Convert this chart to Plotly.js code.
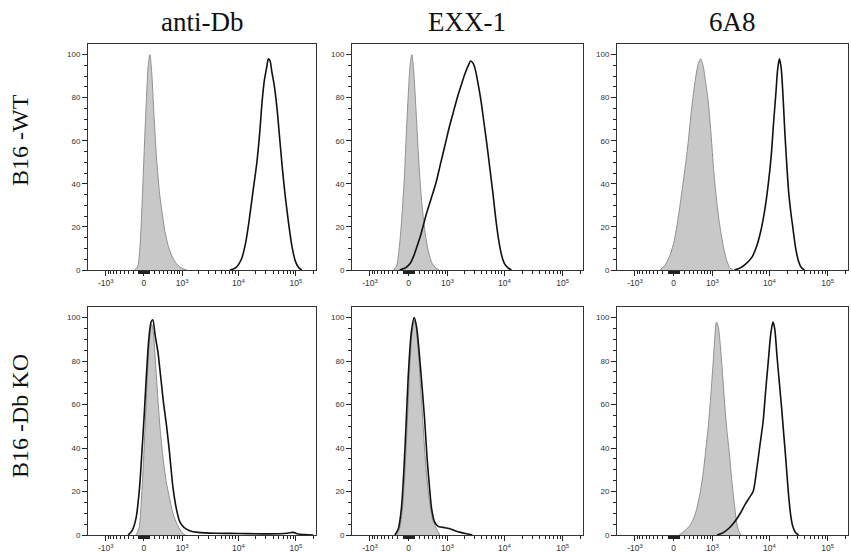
<!DOCTYPE html>
<html>
<head>
<meta charset="utf-8">
<script src="https://cdn.plot.ly/plotly-3.0.1.min.js"></script>
<style>html,body{margin:0;padding:0;background:#fff;}#chart{width:851px;height:552px;}</style>
</head>
<body>
<div id="chart"></div>
<script>
// ---- Labels ----
const columnTitles = ["anti-Db", "EXX-1", "6A8"];
const rowLabels = ["B16 -WT", "B16 -Db KO"];
const majorTickValues = [-1000, 0, 1000, 10000, 100000];
const majorTickText = ["-10<sup>3</sup>", "0", "10<sup>3</sup>", "10<sup>4</sup>", "10<sup>5</sup>"];
const yTickValues = [0, 20, 40, 60, 80, 100];

// ---- Histogram data: x = display position in decades (biexponential axis), y = % of max ----
// B16-WT, anti-Db
const wtDbCtrlX = [2.20,2.25,2.29,2.33,2.36,2.40,2.43,2.46,2.49,2.53,2.58,2.63,2.68,2.72,2.78,2.85,2.92,3.00,3.10];
const wtDbCtrlY = [0,2,12,35,55,80,95,100,92,72,50,35,25,18,11,6,3,1,0];
const wtDbStainX = [3.85,3.95,4.05,4.12,4.18,4.25,4.32,4.37,4.41,4.45,4.49,4.52,4.55,4.58,4.62,4.67,4.72,4.76,4.81,4.87,4.93,4.99,5.05,5.10];
const wtDbStainY = [0,1,5,12,22,36,50,64,78,88,94,98,97,92,86,75,60,48,35,22,11,4,1,0];
// B16-WT, EXX-1
const wtExxCtrlX = [2.10,2.15,2.20,2.24,2.28,2.31,2.35,2.38,2.41,2.44,2.48,2.52,2.56,2.60,2.65,2.70,2.76,2.82,2.88];
const wtExxCtrlY = [0,2,12,25,42,60,82,95,100,93,75,55,38,26,15,8,3,1,0];
const wtExxStainX = [2.20,2.30,2.38,2.45,2.50,2.56,2.61,2.67,2.74,2.82,2.90,2.98,3.05,3.12,3.19,3.26,3.32,3.38,3.42,3.46,3.50,3.55,3.60,3.65,3.70,3.75,3.80,3.85,3.90,3.95,4.00,4.06,4.12];
const wtExxStainY = [0,1,3,7,11,16,21,27,33,40,49,58,66,73,80,86,91,95,97,96,93,86,78,68,58,47,36,24,14,7,3,1,0];
// B16-WT, 6A8
const wt6a8CtrlX = [2.12,2.20,2.28,2.36,2.42,2.48,2.54,2.60,2.66,2.72,2.78,2.82,2.86,2.90,2.95,3.00,3.04,3.09,3.14,3.20,3.26,3.32,3.38];
const wt6a8CtrlY = [0,2,6,13,22,33,45,58,74,87,96,98,95,88,78,62,47,33,22,12,5,1,0];
const wt6a8StainX = [3.40,3.50,3.60,3.70,3.78,3.85,3.92,3.98,4.03,4.07,4.11,4.14,4.17,4.20,4.23,4.26,4.29,4.33,4.37,4.40,4.45,4.50,4.55,4.60];
const wt6a8StainY = [0,1,3,6,11,18,28,40,53,68,82,93,98,94,82,66,52,36,26,20,10,4,1,0];
// B16-Db KO, anti-Db
const koDbCtrlX = [2.22,2.27,2.32,2.35,2.38,2.42,2.46,2.49,2.52,2.56,2.60,2.64,2.69,2.74,2.80,2.87,2.95,3.02,3.08];
const koDbCtrlY = [0,3,20,35,52,75,92,97,93,78,62,48,35,25,17,9,4,1,0];
const koDbStainX = [2.08,2.15,2.22,2.28,2.32,2.36,2.40,2.44,2.48,2.51,2.55,2.60,2.65,2.70,2.75,2.80,2.86,2.92,2.98,3.05,3.15,3.30,3.60,4.00,4.50,4.85,4.95,5.02,5.15,5.30];
const koDbStainY = [0,2,8,22,38,55,74,90,98,99,92,84,72,60,50,38,22,12,6,3.5,2,1.2,0.8,0.7,0.5,0.8,1.2,0.6,0.2,0];
// B16-Db KO, EXX-1
const koExxCtrlX = [2.15,2.20,2.25,2.29,2.33,2.37,2.41,2.45,2.48,2.52,2.56,2.60,2.64,2.68,2.72,2.77,2.83,2.89];
const koExxCtrlY = [0,3,12,28,50,75,92,99,96,85,68,52,35,23,14,7,3,0];
const koExxStainX = [2.12,2.18,2.23,2.27,2.31,2.35,2.40,2.45,2.49,2.53,2.58,2.63,2.67,2.71,2.75,2.80,2.86,2.95,3.05,3.15,3.25,3.35,3.45];
const koExxStainY = [0,3,12,28,50,74,93,100,96,86,70,53,36,23,12,6,4,3.5,3,2,1.2,0.6,0];
// B16-Db KO, 6A8
const ko6a8CtrlX = [2.45,2.55,2.65,2.73,2.80,2.86,2.91,2.95,2.99,3.03,3.06,3.09,3.12,3.16,3.20,3.24,3.27,3.31,3.35,3.39,3.43,3.47,3.51];
const ko6a8CtrlY = [0,2,5,10,18,28,40,50,63,78,90,98,96,86,72,57,48,38,26,16,7,2,0];
const ko6a8StainX = [3.10,3.20,3.30,3.40,3.50,3.58,3.65,3.72,3.78,3.84,3.89,3.94,3.98,4.02,4.06,4.09,4.13,4.17,4.21,4.24,4.28,4.32,4.36,4.40,4.45,4.50];
const ko6a8StainY = [0,1,3,6,10,14,17,20,30,42,52,68,80,92,98,95,82,70,58,48,35,21,10,4,1,0];

const panels = [
  [wtDbCtrlX, wtDbCtrlY, wtDbStainX, wtDbStainY],
  [wtExxCtrlX, wtExxCtrlY, wtExxStainX, wtExxStainY],
  [wt6a8CtrlX, wt6a8CtrlY, wt6a8StainX, wt6a8StainY],
  [koDbCtrlX, koDbCtrlY, koDbStainX, koDbStainY],
  [koExxCtrlX, koExxCtrlY, koExxStainX, koExxStainY],
  [ko6a8CtrlX, ko6a8CtrlY, ko6a8StainX, ko6a8StainY]
];

// biexponential-like display transform for tick placement
const C = 227;
function biex(v) { return Math.asinh(v / (2 * C)) / Math.LN10 + Math.log10(C); }

const minorVals = [];
for (let k = 1; k <= 9; k++) { minorVals.push(-100 * k); minorVals.push(-10 * k); minorVals.push(10 * k); minorVals.push(100 * k); minorVals.push(1000 * k); minorVals.push(10000 * k); }
minorVals.push(200000);
const minorPos = minorVals.filter(v => [-1000,0,1000,10000,100000].indexOf(v) < 0).map(biex);

const W = 851, H = 552;
const xDomPx = [[88, 316], [352, 583], [617, 848]];
const yDomPx = [[44, 270], [307, 535]];

const data = [];
const layout = {
  width: W, height: H,
  margin: {l: 0, r: 0, t: 0, b: 0},
  paper_bgcolor: '#fff', plot_bgcolor: '#fff',
  showlegend: false,
  annotations: []
};

panels.forEach((p, i) => {
  const n = i + 1;
  const xa = n === 1 ? 'x' : 'x' + n;
  const ya = n === 1 ? 'y' : 'y' + n;
  data.push({x: p[0], y: p[1], xaxis: xa, yaxis: ya, type: 'scatter', mode: 'lines',
    line: {color: '#909090', width: 1, shape: 'spline', smoothing: 0.7},
    fill: 'tozeroy', fillcolor: '#c8c8c8', hoverinfo: 'skip'});
  data.push({x: p[2], y: p[3], xaxis: xa, yaxis: ya, type: 'scatter', mode: 'lines',
    line: {color: '#111', width: 1.6, shape: 'spline', smoothing: 0.7}, hoverinfo: 'skip'});
  const col = i % 3, row = Math.floor(i / 3);
  const xd = xDomPx[col], yd = yDomPx[row];
  layout['xaxis' + (n === 1 ? '' : n)] = {
    domain: [xd[0] / W, xd[1] / W], anchor: ya, range: [1.383, 5.348],
    showline: true, linecolor: '#333', linewidth: 1, mirror: true,
    showgrid: false, zeroline: false,
    tickmode: 'array', tickvals: majorTickValues.map(biex), ticktext: majorTickText,
    ticks: 'outside', ticklen: 5, tickwidth: 1, tickcolor: '#222',
    tickfont: {family: 'Arial, Liberation Sans, sans-serif', size: 8.5, color: '#333'},
    minor: {tickmode: 'array', tickvals: minorPos, ticks: 'outside', ticklen: 3, tickwidth: 1, tickcolor: '#222', showgrid: false},
    fixedrange: true
  };
  layout['yaxis' + (n === 1 ? '' : n)] = {
    domain: [1 - yd[1] / H, 1 - yd[0] / H], anchor: xa, range: [0, 104.9],
    showline: true, linecolor: '#333', linewidth: 1, mirror: true,
    showgrid: false, zeroline: false,
    tickmode: 'array', tickvals: yTickValues,
    ticks: 'outside', ticklen: 5, tickwidth: 1, tickcolor: '#222',
    tickfont: {family: 'Arial, Liberation Sans, sans-serif', size: 8, color: '#333'},
    minor: {dtick: 5, tick0: 0, ticks: 'outside', ticklen: 3, tickwidth: 1, tickcolor: '#222', showgrid: false},
    fixedrange: true
  };
});

columnTitles.forEach((t, c) => {
  layout.annotations.push({text: t, xref: 'paper', yref: 'paper',
    x: (xDomPx[c][0] + xDomPx[c][1]) / 2 / W, y: 1 - 22 / H,
    xanchor: 'center', yanchor: 'middle', showarrow: false,
    font: {family: 'Liberation Serif, Times New Roman, serif', size: 27, color: '#111'}});
});
const rowCentersPx = [140, 416];
rowLabels.forEach((t, r) => {
  layout.annotations.push({text: t, xref: 'paper', yref: 'paper',
    x: 20 / W, y: 1 - rowCentersPx[r] / H, textangle: -90,
    xanchor: 'center', yanchor: 'middle', showarrow: false,
    font: {family: 'Liberation Serif, Times New Roman, serif', size: 24, color: '#111'}});
});

Plotly.newPlot('chart', data, layout, {displayModeBar: false, staticPlot: true});
</script>
</body>
</html>
